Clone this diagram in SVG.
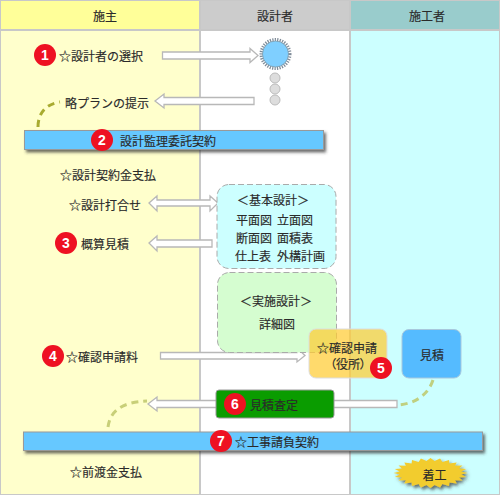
<svg xmlns="http://www.w3.org/2000/svg" width="500" height="495" viewBox="0 0 500 495">
<style>
text{font-family:"Noto Sans CJK JP","Noto Sans",sans-serif;font-size:12px;fill:#2a2a2a;stroke:#2a2a2a;stroke-width:.15;dominant-baseline:central}
.c{text-anchor:middle}
.ar{fill:#fff;stroke:#b8b8b8;stroke-width:1.3}
.dash{fill:none;stroke-width:3;stroke-dasharray:7 5}
.bar{fill:#66c8ff;stroke:#999;stroke-width:1;filter:url(#sh)}
.badge circle{fill:#ee1122}
.badge text{fill:#fff;stroke:none;font-family:"Liberation Sans",sans-serif;font-weight:bold;font-size:14px;text-anchor:middle}
.dot{fill:#ddd;stroke:#bbb}
</style>
<defs>
<filter id="sh" x="-10%" y="-30%" width="120%" height="180%"><feDropShadow dx="2" dy="2.5" stdDeviation="1.500" flood-color="#333" flood-opacity=".7"/></filter>
</defs>
<g id="columns">
<rect width="500" height="495" fill="#c8c8c8"/>
<rect x="1" y="1" width="198" height="28" fill="#ffff99"/>
<rect x="201" y="1" width="148" height="28" fill="#cccccc"/>
<rect x="351" y="1" width="148" height="28" fill="#99cccc"/>
<rect x="1" y="31" width="198" height="463" fill="#ffffcc"/>
<rect x="201" y="31" width="148" height="463" fill="#ffffff"/>
<rect x="351" y="31" width="148" height="463" fill="#ccffff"/>
<text class="c" x="105" y="15">施主</text>
<text class="c" x="275" y="15">設計者</text>
<text class="c" x="427" y="15">施工者</text>
</g>
<g id="connectors">
<path class="ar" d="M162.500 52H250V48.500L258 55.500 250 62.500V59H162.500Z"/>
<path class="ar" d="M155 101L164 94V97.500H254V104.500H164V108Z"/>
<path class="ar" d="M149 203L157 196V200H210V196L218 203 210 211V206H157V211Z"/>
<path class="ar" d="M149 243L157 236V240H212V247H157V251Z"/>
<path class="ar" d="M160.500 352.500H297V348L305 355.500 297 362V359H160.500Z"/>
<path class="ar" d="M148 404L157 397V400.500H397V407.500H157V411Z"/>
<path class="dash" stroke="#a8ab30" d="M38 127C38 113 46 104 60 102"/>
<path class="dash" stroke="#c8cf78" d="M108 427C110 411 122 402 147 401"/>
<path class="dash" stroke="#c0d080" d="M433 380C428 395 415 404 397 405"/>
</g>
<g id="sun">
<circle cx="275.500" cy="54" r="14" fill="none" stroke="#7f8c99" stroke-width="4" stroke-dasharray="1.200 1.200"/>
<circle cx="275.500" cy="54" r="13" fill="#7fcfff" stroke="#7f9aaa" stroke-width=".8"/>
<circle class="dot" cx="275" cy="78" r="5"/>
<circle class="dot" cx="275" cy="89" r="5"/>
<circle class="dot" cx="275" cy="100" r="5"/>
</g>
<g id="n1"><text x="59" y="55">☆設計者の選択</text></g>
<g id="n1b"><text x="65" y="102">略プランの提示</text></g>
<g id="bar-design"><rect class="bar" x="24.500" y="130.500" width="299" height="19"/><text x="120" y="140">設計監理委託契約</text></g>
<g id="n-pay"><text x="60" y="174">☆設計契約金支払</text></g>
<g id="n-meet"><text x="69" y="204">☆設計打合せ</text></g>
<g id="n-est"><text x="81" y="243">概算見積</text></g>
<g id="basic">
<rect x="217" y="184.500" width="119" height="84" rx="12" fill="#ccffff" stroke="#aaa" stroke-dasharray="6 3"/>
<text class="c" x="273" y="199">＜基本設計＞</text>
<text x="236" y="219">平面図</text><text x="277" y="219">立面図</text>
<text x="236" y="237">断面図</text><text x="277" y="237">面積表</text>
<text x="235" y="255">仕上表</text><text x="277" y="255">外構計画</text>
</g>
<g id="detail">
<rect x="217.500" y="272.500" width="119" height="80" rx="12" fill="#d5fdd0" stroke="#aaa" stroke-dasharray="6 3"/>
<text class="c" x="276" y="300">＜実施設計＞</text>
<text class="c" x="277" y="323">詳細図</text>
</g>
<g id="n-fee"><text x="66" y="356">☆確認申請料</text></g>
<g id="apply">
<rect x="309" y="329" width="78" height="49" rx="7" fill="#ffcc33" fill-opacity=".72" stroke="#ddd"/>
<text class="c" x="347" y="347">☆確認申請</text>
<text class="c" x="348" y="363" style="font-feature-settings:'palt'">（役所）</text>
</g>
<g id="quote">
<rect x="402" y="329.500" width="59" height="48.500" rx="7" fill="#55bbff" stroke="#a8c8dd"/>
<text class="c" x="432" y="354">見積</text>
</g>
<g id="check">
<rect x="216" y="390" width="118" height="28" rx="3" fill="#0a9c00" stroke="#999"/>
<text x="250" y="404">見積査定</text>
</g>
<g id="bar-build"><rect class="bar" x="23.500" y="432" width="459" height="18.500"/><text x="235" y="441">☆工事請負契約</text></g>
<g id="n-adv"><text x="70" y="471">☆前渡金支払</text></g>
<g id="start">
<polygon filter="url(#sh)" fill="#f2cc2e" points="467.500,473 461.200,474.600 466.200,476.900 459.100,477.600 462.500,480.500 455.100,480.300 456.700,483.600 449.400,482.500 449,486 442.400,484.100 440.100,487.500 434.600,484.900 430.500,488 426.400,484.900 420.900,487.500 418.600,484.100 412,486 411.600,482.500 404.300,483.600 405.900,480.300 398.500,480.500 401.900,477.600 394.800,476.900 399.800,474.600 393.500,473 399.800,471.400 394.800,469.100 401.900,468.400 398.500,465.500 405.900,465.700 404.300,462.400 411.600,463.500 412,460 418.600,461.900 420.900,458.500 426.400,461.100 430.500,458 434.600,461.100 440.100,458.500 442.400,461.900 449,460 449.400,463.500 456.700,462.400 455.100,465.700 462.500,465.500 459.100,468.400 466.200,469.100 461.200,471.400"/>
<text class="c" x="434.500" y="474">着工</text>
</g>
<g id="badges">
<g class="badge"><circle cx="45" cy="55" r="11"/><text x="45" y="55">1</text></g>
<g class="badge"><circle cx="102" cy="140" r="11"/><text x="102" y="140">2</text></g>
<g class="badge"><circle cx="66" cy="243" r="11"/><text x="66" y="243">3</text></g>
<g class="badge"><circle cx="53" cy="356" r="11"/><text x="53" y="356">4</text></g>
<g class="badge"><circle cx="381" cy="368" r="11"/><text x="381" y="368">5</text></g>
<g class="badge"><circle cx="235" cy="404" r="11"/><text x="235" y="404">6</text></g>
<g class="badge"><circle cx="221" cy="441" r="11"/><text x="221" y="441">7</text></g>
</g>
</svg>
